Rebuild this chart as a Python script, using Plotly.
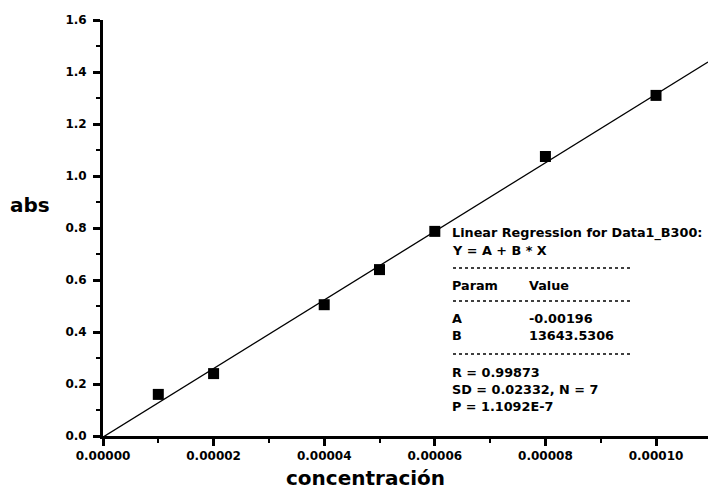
import numpy as np
import plotly.graph_objects as go

conc = [0.00001, 0.00002, 0.00004, 0.00005, 0.00006, 0.00008, 0.00010]
absb = [0.16, 0.24, 0.505, 0.64, 0.787, 1.075, 1.31]

x_range = [0, 0.0001094]
y_range = [0, 1.6]

box_lines = [
    ("Linear Regression for Data1_B300:", ""),
    ("Y = A + B * X", ""),
    ("Param", "Value"),
    ("A", "-0.00196"),
    ("B", "13643.5306"),
    ("R = 0.99873", ""),
    ("SD = 0.02332, N = 7", ""),
    ("P = 1.1092E-7", ""),
]

slope, intercept = np.polyfit(conc, absb, 1)
fit_x = np.array(x_range)
fit_y = intercept + slope * fit_x

FONT = "DejaVu Sans"
W, H = 708, 494
L, R, T, B = 103, 0, 20, 58
pw, ph = W - L - R, H - T - B

def px(xp):
    return (xp - L) / pw

def py(yp):
    return (H - B - yp) / ph

fig = go.Figure()
fig.add_trace(go.Scatter(x=fit_x, y=fit_y, mode="lines",
                         line=dict(color="black", width=1.3), showlegend=False))
fig.add_trace(go.Scatter(x=conc, y=absb, mode="markers",
                         marker=dict(symbol="square", size=11, color="black"),
                         showlegend=False))

axis_common = dict(showline=True, linecolor="black", linewidth=2.8, ticks="outside",
                   ticklen=7, tickwidth=2.5, tickcolor="black", showgrid=False,
                   zeroline=False, mirror=False,
                   tickfont=dict(family=FONT, size=12, color="black", weight="bold"))

fig.update_xaxes(range=x_range, dtick=0.00002, tick0=0, tickformat=".5f",
                 minor=dict(ticks="outside", ticklen=4, tickwidth=2, dtick=0.00001, tickcolor="black"),
                 **axis_common)
fig.update_yaxes(range=y_range, dtick=0.2, tick0=0, tickformat=".1f",
                 minor=dict(ticks="outside", ticklen=4, tickwidth=2, dtick=0.1, tickcolor="black"),
                 ticklabelstandoff=4,
                 **axis_common)

ann = []
ann.append(dict(x=px(8), y=py(205), xref="paper", yref="paper", text="abs", showarrow=False,
                xanchor="left", yanchor="middle",
                font=dict(family=FONT, size=20, color="black", weight="bold")))
ann.append(dict(x=px(365), y=py(478), xref="paper", yref="paper", text="concentración", showarrow=False,
                xanchor="center", yanchor="middle",
                font=dict(family=FONT, size=20, color="black", weight="bold")))

ys = [233, 250, 285, 318, 335, 372, 389, 406]
for (a, b), yy in zip(box_lines, ys):
    ann.append(dict(x=px(450), y=py(yy), xref="paper", yref="paper", text=a, showarrow=False,
                    xanchor="left", yanchor="middle",
                    font=dict(family=FONT, size=12.8, color="black", weight="bold")))
    if b:
        ann.append(dict(x=px(527), y=py(yy), xref="paper", yref="paper", text=b, showarrow=False,
                        xanchor="left", yanchor="middle",
                        font=dict(family=FONT, size=12.8, color="black", weight="bold")))

shapes = []
for yy in [268, 301, 354]:
    shapes.append(dict(type="line", xref="paper", yref="paper", x0=px(453), x1=px(631),
                       y0=py(yy), y1=py(yy), line=dict(color="black", width=1.5, dash="dot")))

fig.update_layout(width=W, height=H, margin=dict(l=L, r=R, t=T, b=B),
                  plot_bgcolor="white", paper_bgcolor="white",
                  annotations=ann, shapes=shapes)
fig.write_html("out.html", config={"displayModeBar": False},
               post_script="document.body.style.margin='0';document.body.style.overflow='hidden';")
